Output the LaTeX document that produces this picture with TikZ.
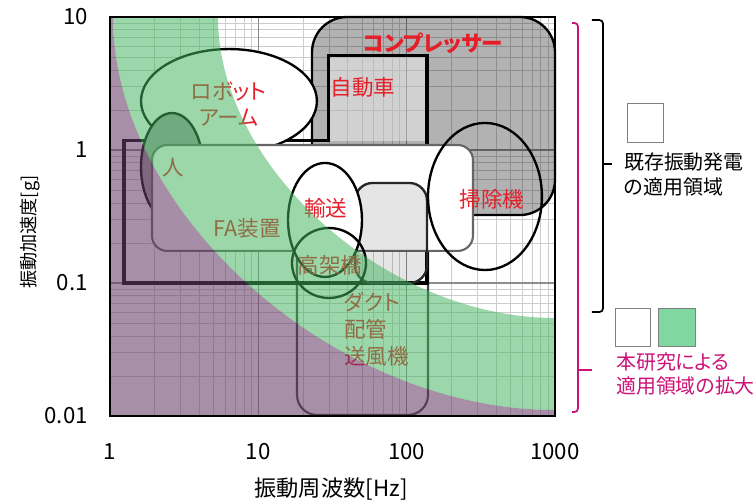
\documentclass[tikz,border=0pt]{standalone}
\usepackage{fontspec}
\setmainfont{Noto Sans CJK JP}[RawFeature=+palt]
\usepackage{tikz}
\definecolor{labelred}{RGB}{230,30,40}
\definecolor{bandgreen}{RGB}{68,180,96}
\definecolor{bandpurple}{RGB}{105,62,105}
\definecolor{keygreen}{RGB}{128,216,160}
\definecolor{studymagenta}{RGB}{204,17,119}

\begin{document}
\begin{tikzpicture}[x=4.45cm,y=3.99cm,
    minorline/.style={draw=black!20,line width=0.7pt},
    majorline/.style={draw=black!45,line width=0.9pt},
    lbl/.style={text=labelred,font=\fontsize{18.4}{22}\selectfont},
    tick/.style={inner sep=0pt,font=\fontsize{19}{20}\selectfont},
    keytext/.style={anchor=west,inner sep=0pt,align=left,font=\fontsize{17}{21.3}\selectfont},
    keybox/.style={draw=black!50,line width=0.8pt}]
    \useasboundingbox (-0.7416,-2.639) rectangle (4.3417,1.1278);
    % log grid
    \foreach \d in {0,1,2}{
        \foreach \k in {2,...,9}{
            \draw[minorline] ({\d+log10(\k)},-2) -- ({\d+log10(\k)},1);
            \draw[minorline] (0,{\d-2+log10(\k)}) -- (3,{\d-2+log10(\k)});
        }
    }
    \foreach \d in {1,2} \draw[majorline] (\d,-2) -- (\d,1);
    \foreach \d in {-1,0} \draw[majorline] (0,\d) -- (3,\d);
    % application areas
    \draw[line width=2pt,fill=black,fill opacity=0.3,rounded corners=30pt] (1.362,-0.489) rectangle (3,1);
    \fill[white,fill opacity=0.4] (1.470,0.068) rectangle (2.137,0.714);
    \draw[line width=1.8pt,draw=black!75,rounded corners=17pt] (1.261,-0.55) rectangle (2.144,-1.992);
    \draw[line width=2.6pt] (0.0944,0.068) -- (1.470,0.068) -- (1.470,0.714) -- (2.137,0.714) -- (2.137,-1) -- (0.0944,-1) -- cycle;
    \draw[line width=2pt,fill=white] (0.802,0.368) ellipse [x radius=0.593,y radius=0.391];
    \draw[line width=2pt,fill=black!37] (0.418,-0.128) ellipse [x radius=0.209,y radius=0.406];
    \draw[line width=1.8pt,draw=black!60,fill=white,rounded corners=13pt] (0.283,-0.759) rectangle (2.447,0.0376);
    \draw[line width=2pt,draw=black!85,fill=black,fill opacity=0.1,rounded corners=15pt] (1.652,-1) rectangle (2.137,-0.248);
    \draw[line width=2pt,fill=white] (1.4495,-0.526) ellipse [x radius=0.2494,y radius=0.4286];
    \draw[line width=2pt] (2.528,-0.3496) ellipse [x radius=0.384,y radius=0.553];
    \draw[line width=2pt] (1.4765,-0.8496) ellipse [x radius=0.2494,y radius=0.263];
    % labels
    \node[lbl,align=center] (robot) at (0.802,0.346) {ロボット\\アーム};
    \node[lbl] (human) at (0.425,-0.135) {人};
    \node[lbl] (car) at (1.706,0.474) {自動車};
    \node[lbl,font=\bfseries\fontsize{18.4}{20}\selectfont] (compressor) at (2.178,0.805) {コンプレッサー};
    \node[lbl] (cleaner) at (2.575,-0.368) {掃除機};
    \node[lbl] (transport) at (1.456,-0.436) {輸送};
    \node[lbl] (fa) at (0.924,-0.586) {FA装置};
    \node[lbl] (bridge) at (1.483,-0.865) {高架橋};
    \node[lbl,align=left,anchor=west,inner sep=0pt,font=\fontsize{18.4}{23}\selectfont] (duct) at (1.578,-1.346) {ダクト\\配管\\送風機};
    % extended range
    \fill[bandgreen,fill opacity=0.53] (0.728,1) .. controls (0.728,-0.1316) and (1.864,-1.263) .. (3,-1.263)
        -- (3,-1.955) .. controls (1.510,-1.955) and (0.0202,-0.477) .. (0.0202,1) -- cycle;
    \fill[bandpurple,fill opacity=0.58] (0.0202,1) .. controls (0.0202,-0.477) and (1.510,-1.955) .. (3,-1.955)
        -- (3,-2) -- (0,-2) -- (0,1) -- cycle;
    \draw[line width=2pt] (0,-2) rectangle (3,1);
    % axes
    \foreach \v/\t in {0/1,1/10,2/100,3/1000}
        \node[tick] (xt\v) at (\v,-2.271) {\t};
    \foreach \v/\t in {1/10,0/1,-1/0.1,-2/0.01}
        \node[tick,anchor=east] (yt\v) at (-0.148,\v) {\t};
    \node[font=\fontsize{19}{20}\selectfont] (xtitle) at (1.49,-2.549) {振動周波数[Hz]};
    \node[rotate=90,font=\fontsize{15.5}{17}\selectfont] (ytitle) at (-0.539,-0.617) {振動加速度[g]};
    % brackets and key
    \draw[line width=1.5pt,rounded corners=3pt] (3.2495,0.977) -- (3.3237,0.977) -- (3.3237,-1.218) -- (3.2495,-1.218);
    \draw[line width=1.5pt] (3.3237,-0.105) -- (3.3844,-0.105);
    \draw[studymagenta,line width=1.5pt,rounded corners=3pt] (3.1147,0.955) -- (3.155,0.955) -- (3.155,-1.970) -- (3.1147,-1.970);
    \draw[studymagenta,line width=1.5pt] (3.155,-1.654) -- (3.2495,-1.654);
    \draw[keybox,fill=white] (3.492,0.060) rectangle (3.728,0.353);
    \node[keytext] (keyold) at (3.465,-0.184) {既存振動発電\\の適用領域};
    \draw[keybox,fill=white] (3.411,-1.481) rectangle (3.647,-1.188);
    \draw[keybox,fill=keygreen] (3.701,-1.481) rectangle (3.944,-1.188);
    \node[keytext,text=studymagenta] (keynew) at (3.411,-1.684) {本研究による\\適用領域の拡大};
\end{tikzpicture}
\end{document}
